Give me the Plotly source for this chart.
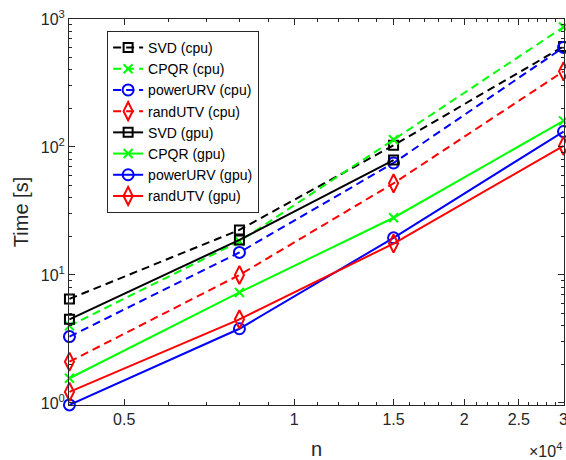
import math
import plotly.graph_objects as go

# Problem sizes and measured run times (seconds)
n = [4000, 8000, 15000, 30000]

svd_cpu = [6.5, 22.5, 103, 610]
cpqr_cpu = [4.0, 18.3, 114, 865]
powerurv_cpu = [3.3, 15.0, 75, 600]
randutv_cpu = [2.1, 10.0, 52, 390]

svd_gpu = [4.5, 18.8, 79, None]
cpqr_gpu = [1.56, 7.3, 28, 160]
powerurv_gpu = [0.965, 3.8, 19.5, 132]
randutv_gpu = [1.22, 4.5, 17.6, 102]

x_tick_vals = [5000, 10000, 15000, 20000, 25000, 30000]
x_tick_text = ["0.5", "1", "1.5", "2", "2.5", "3"]
y_tick_vals = [1, 10, 100, 1000]
y_tick_text = ["10<sup>0</sup>", "10<sup>1</sup>", "10<sup>2</sup>", "10<sup>3</sup>"]

FONT = "Liberation Sans, Arial, Helvetica, sans-serif"
AX = "#262626"

series = [
    ("SVD (cpu)", svd_cpu, "#000000", "square-open", "dash"),
    ("CPQR (cpu)", cpqr_cpu, "#00ff00", "x-thin-open", "dash"),
    ("powerURV (cpu)", powerurv_cpu, "#0000ff", "circle-open", "dash"),
    ("randUTV (cpu)", randutv_cpu, "#ff0000", "diamond-tall-open", "dash"),
    ("SVD (gpu)", svd_gpu, "#000000", "square-open", "solid"),
    ("CPQR (gpu)", cpqr_gpu, "#00ff00", "x-thin-open", "solid"),
    ("powerURV (gpu)", powerurv_gpu, "#0000ff", "circle-open", "solid"),
    ("randUTV (gpu)", randutv_gpu, "#ff0000", "diamond-tall-open", "solid"),
]

marker_sizes = {"square-open": 9, "x-thin-open": 9, "circle-open": 11, "diamond-tall-open": 13}

fig = go.Figure()
for name, vals, color, symbol, dash in series:
    fig.add_trace(go.Scatter(
        x=n, y=vals, name=name, mode="lines+markers",
        line=dict(color=color, width=2, dash="8px,5px" if dash == "dash" else "solid"),
        marker=dict(symbol=symbol, size=marker_sizes[symbol], color=color,
                    line=dict(color=color, width=2)),
        cliponaxis=False,
    ))

x_minor = [v for v in range(4000, 30001, 1000) if v not in x_tick_vals]
y_minor = [m * 10 ** e for e in range(0, 3) for m in range(2, 10)]

# pad the log ranges a hair so the end points stay inside the axes
x_range = [math.log10(n[0]) - 0.0008, math.log10(n[-1]) + 0.0008]
y_range = [-0.016, 3]

fig.update_layout(
    width=566, height=460,
    margin=dict(l=69, r=2, t=19, b=55, autoexpand=False),
    paper_bgcolor="white", plot_bgcolor="white",
    font=dict(family=FONT, size=16, color=AX),
    showlegend=True,
    legend=dict(
        x=0.077, y=0.969, xanchor="left", yanchor="top",
        bgcolor="white", bordercolor=AX, borderwidth=1,
        font=dict(family=FONT, size=14, color="#000000"),
        tracegroupgap=0, itemwidth=30,
    ),
    xaxis=dict(
        type="log", range=x_range, automargin=False,
        tickmode="array", tickvals=x_tick_vals, ticktext=x_tick_text,
        ticks="inside", ticklen=6, tickwidth=1, tickcolor=AX,
        showline=True, linecolor=AX, linewidth=1, mirror="ticks",
        showgrid=False, zeroline=False, ticklabeloverflow="allow",
        minor=dict(tickmode="array", tickvals=x_minor, ticks="inside",
                   ticklen=3, tickwidth=1, tickcolor=AX, showgrid=False),
        tickfont=dict(size=16, color=AX),
        title=dict(text="n", font=dict(size=20, color=AX), standoff=20),
    ),
    yaxis=dict(
        type="log", range=y_range, automargin=False,
        tickmode="array", tickvals=y_tick_vals, ticktext=y_tick_text,
        ticks="inside", ticklen=6, tickwidth=1, tickcolor=AX,
        showline=True, linecolor=AX, linewidth=1, mirror="ticks",
        showgrid=False, zeroline=False,
        minor=dict(tickmode="array", tickvals=y_minor, ticks="inside",
                   ticklen=3, tickwidth=1, tickcolor=AX, showgrid=False),
        tickfont=dict(size=16, color=AX),
        title=dict(text="Time [s]", font=dict(size=20, color=AX), standoff=6),
    ),
    annotations=[
        dict(text="\u00d710<sup>4</sup>", xref="paper", yref="paper",
             x=1.0, y=-0.117, xanchor="right", yanchor="middle",
             showarrow=False, font=dict(size=16, color=AX)),
    ],
)

fig.write_html("out.html")
